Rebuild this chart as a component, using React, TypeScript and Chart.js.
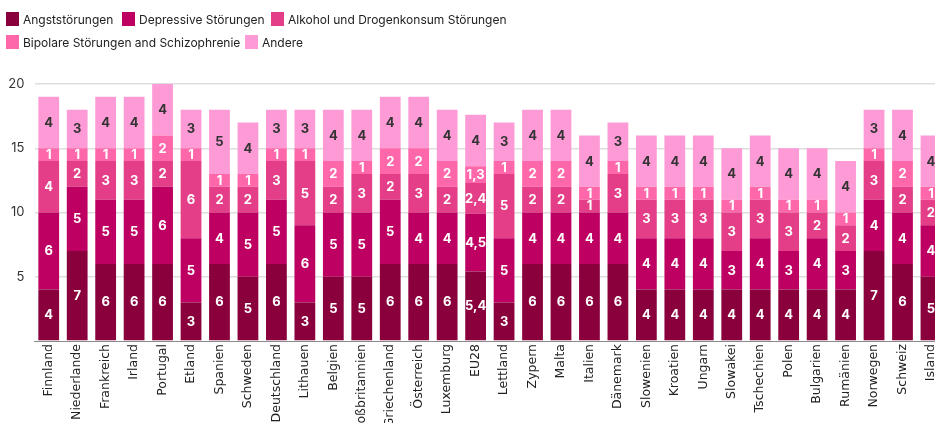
import React, { useEffect, useRef } from 'react';
import { Chart, registerables } from 'chart.js';

Chart.register(...registerables);

const categories = [
  'Finnland', 'Niederlande', 'Frankreich', 'Irland', 'Portugal', 'Etland', 'Spanien', 'Schweden',
  'Deutschland', 'Lithauen', 'Belgien', 'Großbritannien', 'Griechenland', 'Österreich', 'Luxemburg',
  'EU28', 'Lettland', 'Zypern', 'Malta', 'Italien', 'Dänemark', 'Slowenien', 'Kroatien', 'Ungarn',
  'Slowakei', 'Tschechien', 'Polen', 'Bulgarien', 'Rumänien', 'Norwegen', 'Schweiz', 'Island',
];

const angst = [4, 7, 6, 6, 6, 3, 6, 5, 6, 3, 5, 5, 6, 6, 6, 5.4, 3, 6, 6, 6, 6, 4, 4, 4, 4, 4, 4, 4, 4, 7, 6, 5];
const depressive = [6, 5, 5, 5, 6, 5, 4, 5, 5, 6, 5, 5, 5, 4, 4, 4.5, 5, 4, 4, 4, 4, 4, 4, 4, 3, 4, 3, 4, 3, 4, 4, 4];
const alkohol = [4, 2, 3, 3, 2, 6, 2, 2, 3, 5, 2, 3, 2, 3, 2, 2.4, 5, 2, 2, 1, 3, 3, 3, 3, 3, 3, 3, 2, 2, 3, 2, 2];
const bipolar = [1, 1, 1, 1, 2, 1, 1, 1, 1, 1, 2, 1, 2, 2, 2, 1.3, 1, 2, 2, 1, 1, 1, 1, 1, 1, 1, 1, 1, 1, 1, 2, 1];
const andere = [4, 3, 4, 4, 4, 3, 5, 4, 3, 3, 4, 4, 4, 4, 4, 4, 3, 4, 4, 4, 3, 4, 4, 4, 4, 4, 4, 4, 4, 3, 4, 4];

const seriesNames = [
  'Angststörungen',
  'Depressive Störungen',
  'Alkohol und Drogenkonsum Störungen',
  'Bipolare Störungen and Schizophrenie',
  'Andere',
];
const seriesValues = [angst, depressive, alkohol, bipolar, andere];
const seriesColors = ['#8a003d', '#bd0062', '#e33e87', '#ff67ab', '#fe9bd7'];
const labelColors = ['#ffffff', '#ffffff', '#ffffff', '#ffffff', '#333333'];

const yMax = 20;
const yStep = 5;

const legendLayout = [
  { left: 6, top: 12 },
  { left: 122, top: 12 },
  { left: 271, top: 12 },
  { left: 6, top: 35 },
  { left: 245, top: 35 },
];

const segLabelPlugin = {
  id: 'segLabels',
  afterDatasetsDraw(chart: any) {
    const ctx = chart.ctx;
    ctx.save();
    ctx.font = '700 13px Inter';
    ctx.textAlign = 'center';
    ctx.textBaseline = 'middle';
    chart.data.datasets.forEach((ds: any, i: number) => {
      const meta = chart.getDatasetMeta(i);
      meta.data.forEach((el: any, j: number) => {
        const v = ds.data[j];
        const p = el.getProps(['x', 'y', 'base'], true);
        ctx.fillStyle = labelColors[i];
        ctx.fillText(String(v).replace('.', ','), p.x, (p.y + p.base) / 2 + 0.5);
      });
    });
    ctx.restore();
  },
};

export default function App() {
  const ref = useRef<HTMLCanvasElement | null>(null);

  useEffect(() => {
    if (!ref.current) return;
    const chart = new Chart(ref.current, {
      type: 'bar',
      data: {
        labels: categories,
        datasets: seriesNames.map((name, i) => ({
          label: name,
          data: seriesValues[i],
          backgroundColor: seriesColors[i],
          borderWidth: 0,
          barPercentage: 0.73,
          categoryPercentage: 1,
        })),
      },
      options: {
        responsive: false,
        animation: false,
        layout: { padding: { top: 84, left: 0, right: 2.5, bottom: 0 } },
        plugins: {
          legend: { display: false },
          tooltip: { enabled: false },
        },
        scales: {
          x: {
            stacked: true,
            grid: { display: false, drawTicks: false },
            border: { display: true, color: '#8a8a8a', width: 1 },
            ticks: {
              autoSkip: false,
              minRotation: 90,
              maxRotation: 90,
              padding: 3,
              color: '#222222',
              font: { family: 'DejaVu Sans', size: 12.5 },
            },
            afterFit(scale: any) {
              scale.height = 100;
            },
          },
          y: {
            stacked: true,
            min: 0,
            max: yMax,
            border: { display: false },
            grid: {
              drawTicks: false,
              color: (c: any) => (c.tick && c.tick.value === 0 ? 'rgba(0,0,0,0)' : '#dedede'),
              lineWidth: 1.5,
            },
            ticks: {
              stepSize: yStep,
              padding: 10,
              color: '#333333',
              font: { family: 'Inter', size: 13 },
              callback: (v: any) => (v === 0 ? '' : String(v)),
            },
            afterFit(scale: any) {
              scale.width = 34.5;
            },
          },
        },
      },
      plugins: [segLabelPlugin],
    });
    return () => chart.destroy();
  }, []);

  return (
    <div
      style={{
        position: 'absolute',
        left: 0,
        top: 0,
        width: 935,
        height: 423,
        overflow: 'hidden',
        background: '#ffffff',
      }}
    >
      <canvas ref={ref} width={949} height={441} style={{ position: 'absolute', left: 0, top: 0 }} />
      {seriesNames.map((name, i) => (
        <div
          key={name}
          style={{
            position: 'absolute',
            left: legendLayout[i].left,
            top: legendLayout[i].top,
            height: 14,
            display: 'flex',
            alignItems: 'center',
            whiteSpace: 'nowrap',
            fontFamily: 'Inter, sans-serif',
            fontSize: 12,
            color: '#222222',
          }}
        >
          <span style={{ display: 'inline-block', width: 13, height: 14, background: seriesColors[i], marginRight: 4 }} />
          <span>{name}</span>
        </div>
      ))}
    </div>
  );
}
